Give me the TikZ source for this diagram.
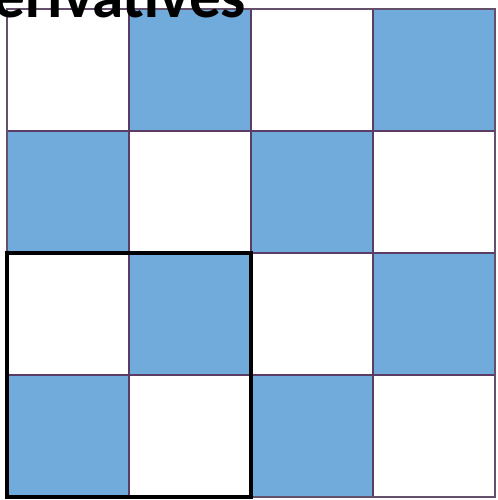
\documentclass[tikz,border=0pt]{standalone}
\usepackage{fontspec}
\setmainfont{Carlito}
\usepackage{tikz}
\definecolor{cellblue}{RGB}{112,171,220}
\definecolor{gridpurple}{RGB}{90,60,100}

\begin{document}
\begin{tikzpicture}[x=0.02cm,y=0.02cm]
    \useasboundingbox (0,0) rectangle (497,500);
    \def\c{122}
    \coordinate (g0) at (7,3);
    \coordinate (g1) at (495,491);
    \coordinate (k1) at (251,247);
    \fill[white] (g0) rectangle (g1);
    \fill[cellblue] (7,3) rectangle ++(\c,\c);
    \fill[cellblue] (7+2*\c,3) rectangle ++(\c,\c);
    \fill[cellblue] (7+\c,3+\c) rectangle ++(\c,\c);
    \fill[cellblue] (7+3*\c,3+\c) rectangle ++(\c,\c);
    \fill[cellblue] (7,3+2*\c) rectangle ++(\c,\c);
    \fill[cellblue] (7+2*\c,3+2*\c) rectangle ++(\c,\c);
    \fill[cellblue] (7+\c,3+3*\c) rectangle ++(\c,\c);
    \fill[cellblue] (7+3*\c,3+3*\c) rectangle ++(\c,\c);
    \draw[gridpurple, line width=1.1pt] (7+\c,3) -- (7+\c,491);
    \draw[gridpurple, line width=1.1pt] (7+2*\c,3) -- (7+2*\c,491);
    \draw[gridpurple, line width=1.1pt] (7+3*\c,3) -- (7+3*\c,491);
    \draw[gridpurple, line width=1.1pt] (7,3+\c) -- (495,3+\c);
    \draw[gridpurple, line width=1.1pt] (7,3+2*\c) -- (495,3+2*\c);
    \draw[gridpurple, line width=1.1pt] (7,3+3*\c) -- (495,3+3*\c);
    \draw[gridpurple!70!gray, line width=1.3pt] (g0) rectangle (g1);
    \draw[black, line width=2.5pt] (g0) rectangle (k1);
    \node[anchor=base west, inner sep=0, font=\bfseries\fontsize{36}{43}\selectfont] (title) at (-7,482) {erivatives};
\end{tikzpicture}
\end{document}
